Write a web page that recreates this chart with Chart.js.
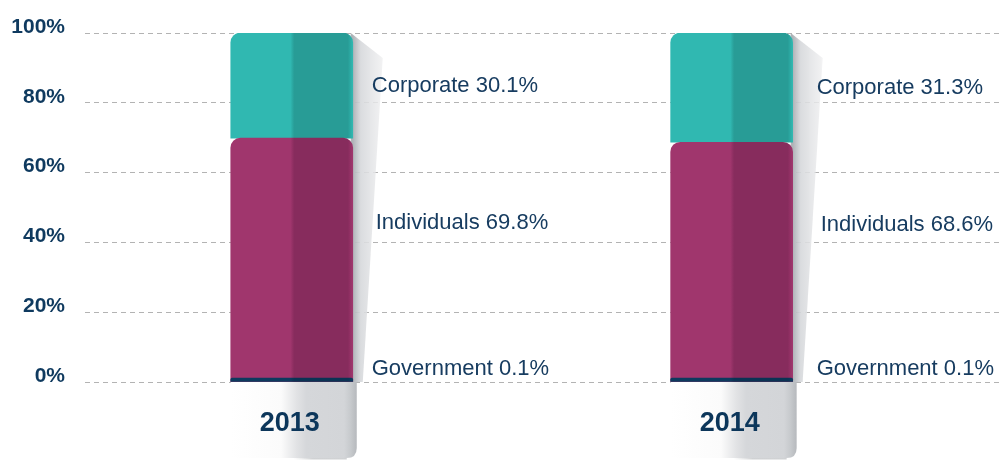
<!DOCTYPE html>
<html>
<head>
<meta charset="utf-8">
<script src="https://cdn.jsdelivr.net/npm/chart.js@4/dist/chart.umd.min.js"></script>
<style>
  html, body { margin: 0; padding: 0; background: #ffffff; }
  #wrap { width: 1000px; height: 460px; }
</style>
</head>
<body>
<div id="wrap"><canvas id="c" width="1000" height="460"></canvas></div>
<script>
// Ownership split by year (percent of total)
const years = [2013, 2014];
const seriesNames = ['Government', 'Individuals', 'Corporate'];
const government = [0.1, 0.1];
const individuals = [69.8, 68.6];
const corporate = [30.1, 31.3];
const yTicks = [0, 20, 40, 60, 80, 100];

const NAVY = '#0f3a5f';
const FONT = '"Liberation Sans", Arial, Helvetica, sans-serif';
const BAR_W = 122;

// two-tone fill: lighter left half, darker right half
const tones = {
  Government: ['#0d3a5e', '#0b3354'],
  Individuals: ['#a0366d', '#872c5d'],
  Corporate: ['#30b8b1', '#289c96']
};

function barFill(name) {
  return function (ctx) {
    const chart = ctx.chart;
    const [light, dark] = tones[name];
    if (!ctx.raw || !chart.scales || !chart.scales.x || !chart.chartArea) return light;
    const cx = chart.scales.x.getPixelForValue(ctx.raw.x);
    if (!isFinite(cx)) return light;
    const g = chart.ctx.createLinearGradient(cx - BAR_W / 2, 0, cx + BAR_W / 2, 0);
    g.addColorStop(0, light);
    g.addColorStop(0.44, light);
    g.addColorStop(0.49, light);
    g.addColorStop(0.52, dark);
    g.addColorStop(0.96, dark);
    g.addColorStop(1, light);
    return g;
  };
}

// floating segments built cumulatively from the series values
const series = [government, individuals, corporate];
const running = years.map(() => 0);
const labelShift = { Government: -10.5, Individuals: -37, Corporate: 0.5 };
const labelGap = { Government: 19, Individuals: 23, Corporate: 19 };
const columnGapExtra = [0, 5];

const datasets = series.map((vals, k) => {
  const name = seriesNames[k];
  const data = vals.map((v, i) => {
    const lo = running[i];
    running[i] = lo + v;
    return { x: years[i], y: [lo, lo + v] };
  });
  return {
    label: name,
    data: data,
    values: vals,
    backgroundColor: barFill(name),
    borderWidth: 0,
    borderSkipped: false,
    borderRadius: { topLeft: 10, topRight: 10, bottomLeft: 0, bottomRight: 0 },
    barThickness: BAR_W,
    minBarLength: 4,
    grouped: false
  };
});

// grey folded tab under each column plus the slanted side shade
const columnShade = {
  id: 'columnShade',
  beforeDatasetsDraw(chart) {
    const c = chart.ctx;
    const topMeta = chart.getDatasetMeta(chart.data.datasets.length - 1);
    const base = chart.scales.y.getPixelForValue(0);
    const tabBottom = chart.height - 2;
    topMeta.data.forEach((el) => {
      const p = el.getProps(['x', 'y', 'width'], true);
      if (!isFinite(p.x) || !isFinite(p.y)) return;
      const L = p.x - p.width / 2, R = p.x + p.width / 2;
      c.save();
      // side shade
      const sg = c.createLinearGradient(R, 0, R + 32, 0);
      sg.addColorStop(0, 'rgba(170,174,179,0.95)');
      sg.addColorStop(0.25, 'rgba(214,216,219,0.9)');
      sg.addColorStop(1, 'rgba(242,242,243,0.8)');
      c.beginPath();
      c.moveTo(R - 2, p.y);
      c.lineTo(R + 30, p.y + 25);
      c.lineTo(R + 10, base);
      c.lineTo(R - 2, base);
      c.closePath();
      c.fillStyle = sg;
      c.fill();
      // tab
      const tr = R + 4;
      const tg = c.createLinearGradient(L, 0, tr, 0);
      tg.addColorStop(0, '#ffffff');
      tg.addColorStop(0.4, '#fbfbfb');
      tg.addColorStop(0.52, '#e2e3e5');
      tg.addColorStop(0.6, '#d5d7da');
      tg.addColorStop(0.9, '#d3d5d8');
      tg.addColorStop(0.95, '#c7cacd');
      tg.addColorStop(1, '#b6b9bd');
      const r = 10;
      c.beginPath();
      c.moveTo(L, base);
      c.lineTo(tr, base);
      c.lineTo(tr, tabBottom - r);
      c.quadraticCurveTo(tr, tabBottom, tr - r, tabBottom);
      c.lineTo(L, tabBottom);
      c.closePath();
      c.fillStyle = tg;
      c.fill();
      // soft bottom edge of the tab
      const bg = c.createLinearGradient(L, 0, tr, 0);
      bg.addColorStop(0, 'rgba(120,125,130,0)');
      bg.addColorStop(0.5, 'rgba(120,125,130,0.0)');
      bg.addColorStop(0.65, 'rgba(120,125,130,0.35)');
      bg.addColorStop(1, 'rgba(120,125,130,0.35)');
      c.strokeStyle = bg;
      c.lineWidth = 1.5;
      c.beginPath();
      c.moveTo(L, tabBottom + 0.75);
      c.lineTo(tr - r, tabBottom + 0.75);
      c.stroke();
      c.restore();
    });
  }
};

// series name and share next to each segment
const segmentLabels = {
  id: 'segmentLabels',
  afterDatasetsDraw(chart) {
    const c = chart.ctx;
    c.save();
    c.font = '22px ' + FONT;
    c.fillStyle = '#173c60';
    c.textAlign = 'left';
    c.textBaseline = 'middle';
    chart.data.datasets.forEach((ds, k) => {
      const meta = chart.getDatasetMeta(k);
      meta.data.forEach((el, i) => {
        const p = el.getProps(['x', 'y', 'base', 'width'], true);
        const mid = (p.y + p.base) / 2 + labelShift[ds.label];
        const x = p.x + p.width / 2 + labelGap[ds.label] + columnGapExtra[i];
        c.fillText(ds.label + ' ' + ds.values[i].toFixed(1) + '%', x, mid);
      });
    });
    c.restore();
  }
};

new Chart(document.getElementById('c'), {
  type: 'bar',
  data: { datasets: datasets },
  options: {
    responsive: false,
    animation: false,
    events: [],
    layout: { padding: { top: 33, right: 0, left: 0, bottom: 0 } },
    plugins: {
      legend: { display: false },
      tooltip: { enabled: false }
    },
    scales: {
      x: {
        type: 'linear',
        min: 2012.53,
        max: 2014.61,
        offset: false,
        grid: { display: false, drawTicks: false, offset: false },
        border: { display: false },
        afterBuildTicks(scale) { scale.ticks = years.map(v => ({ value: v })); },
        afterFit(scale) { scale.height = 78; },
        ticks: {
          z: 1,
          autoSkip: false,
          padding: 25,
          labelOffset: -2,
          color: '#0c365a',
          font: { family: FONT, size: 27, weight: 'bold' },
          callback: (v) => String(v)
        }
      },
      y: {
        min: 0,
        max: 100,
        afterBuildTicks(scale) { scale.ticks = yTicks.map(v => ({ value: v })); },
        afterFit(scale) { scale.width = 85; },
        grid: { color: '#b3b3b3', lineWidth: 1, drawTicks: false },
        border: { display: false, dash: [5, 4] },
        ticks: {
          padding: 20,
          labelOffset: -6,
          color: NAVY,
          font: { family: FONT, size: 21, weight: 'bold' },
          callback: (v) => v + '%'
        }
      }
    }
  },
  plugins: [columnShade, segmentLabels]
});
</script>
</body>
</html>
